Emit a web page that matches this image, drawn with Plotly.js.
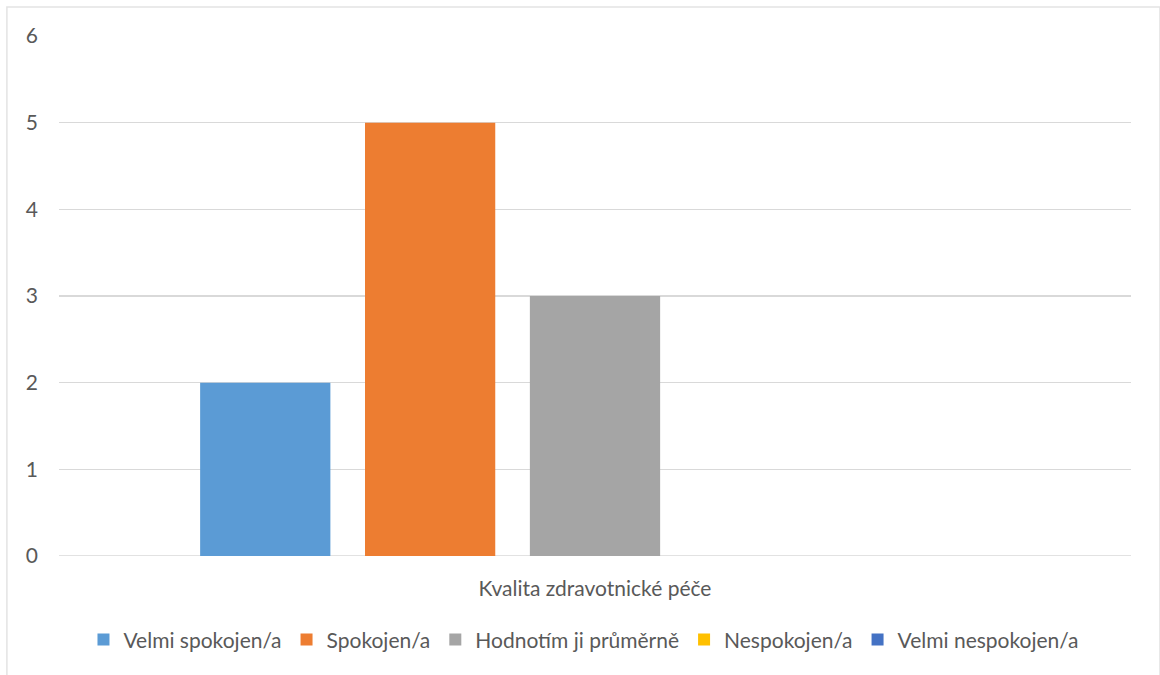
<!DOCTYPE html>
<html>
<head>
<meta charset="utf-8">
<script src="https://cdn.plot.ly/plotly-3.0.1.min.js"></script>
<style>
  html, body { margin: 0; padding: 0; background: #fff; }
  #chart { width: 1160px; height: 675px; }
</style>
</head>
<body>
<div id="chart"></div>
<script>
// Survey answers for one question, one bar per answer
const category = ['Kvalita zdravotnické péče'];
const seriesNames = ['Velmi spokojen/a', 'Spokojen/a', 'Hodnotím ji průměrně', 'Nespokojen/a', 'Velmi nespokojen/a'];
const seriesValues = [2, 5, 3, 0, 0];
const seriesColors = ['#5B9BD5', '#ED7D31', '#A5A5A5', '#FFC000', '#4472C4'];
const yTicks = [0, 1, 2, 3, 4, 5, 6];

const textColor = '#595959';
const gridColor = '#D9D9D9';
const fontFamily = 'Lato, "Open Sans", sans-serif';
const fontSize = 21;

const traces = seriesNames.map((name, i) => ({
  type: 'bar',
  name: name,
  x: category,
  y: [seriesValues[i]],
  marker: { color: seriesColors[i], line: { width: 0 } },
  hoverinfo: 'name+y'
}));

const layout = {
  width: 1160,
  height: 675,
  margin: { l: 59, r: 29, t: 36, b: 119, autoexpand: false },
  paper_bgcolor: '#FFFFFF',
  plot_bgcolor: '#FFFFFF',
  font: { family: fontFamily, color: textColor, size: fontSize },
  barmode: 'group',
  bargap: 0.231,
  bargroupgap: 0.21,
  showlegend: true,
  legend: {
    orientation: 'h',
    xref: 'container', yref: 'container',
    x: 0.503, xanchor: 'center',
    y: 0.052, yanchor: 'middle',
    font: { family: fontFamily, color: textColor, size: fontSize },
    itemwidth: 30,
    itemclick: false, itemdoubleclick: false,
    traceorder: 'normal'
  },
  xaxis: {
    type: 'category',
    showgrid: false,
    showline: false,
    zeroline: false,
    ticks: '',
    ticklabelstandoff: 18,
    tickfont: { family: fontFamily, color: textColor, size: fontSize }
  },
  yaxis: {
    range: [0, 6],
    tickvals: yTicks,
    ticktext: yTicks.map(String),
    showgrid: true,
    gridcolor: gridColor,
    gridwidth: 1.5,
    zeroline: false,
    showline: false,
    ticks: '',
    ticklabelstandoff: 20,
    tickfont: { family: fontFamily, color: textColor, size: fontSize }
  },
  shapes: [
    // zero baseline, same tone as the grid
    { type: 'line', xref: 'paper', yref: 'y', x0: 0, x1: 1, y0: 0, y1: 0,
      line: { color: gridColor, width: 1.5 }, layer: 'below' },
    // light frame around the whole chart
    { type: 'rect', xref: 'paper', yref: 'paper',
      x0: -0.0486, x1: 1.027, y0: -0.25, y1: 1.0558,
      line: { color: '#E3E3E3', width: 1.5 }, fillcolor: 'rgba(0,0,0,0)', layer: 'below' }
  ]
};

Plotly.newPlot('chart', traces, layout, { displayModeBar: false, staticPlot: true });
</script>
</body>
</html>
